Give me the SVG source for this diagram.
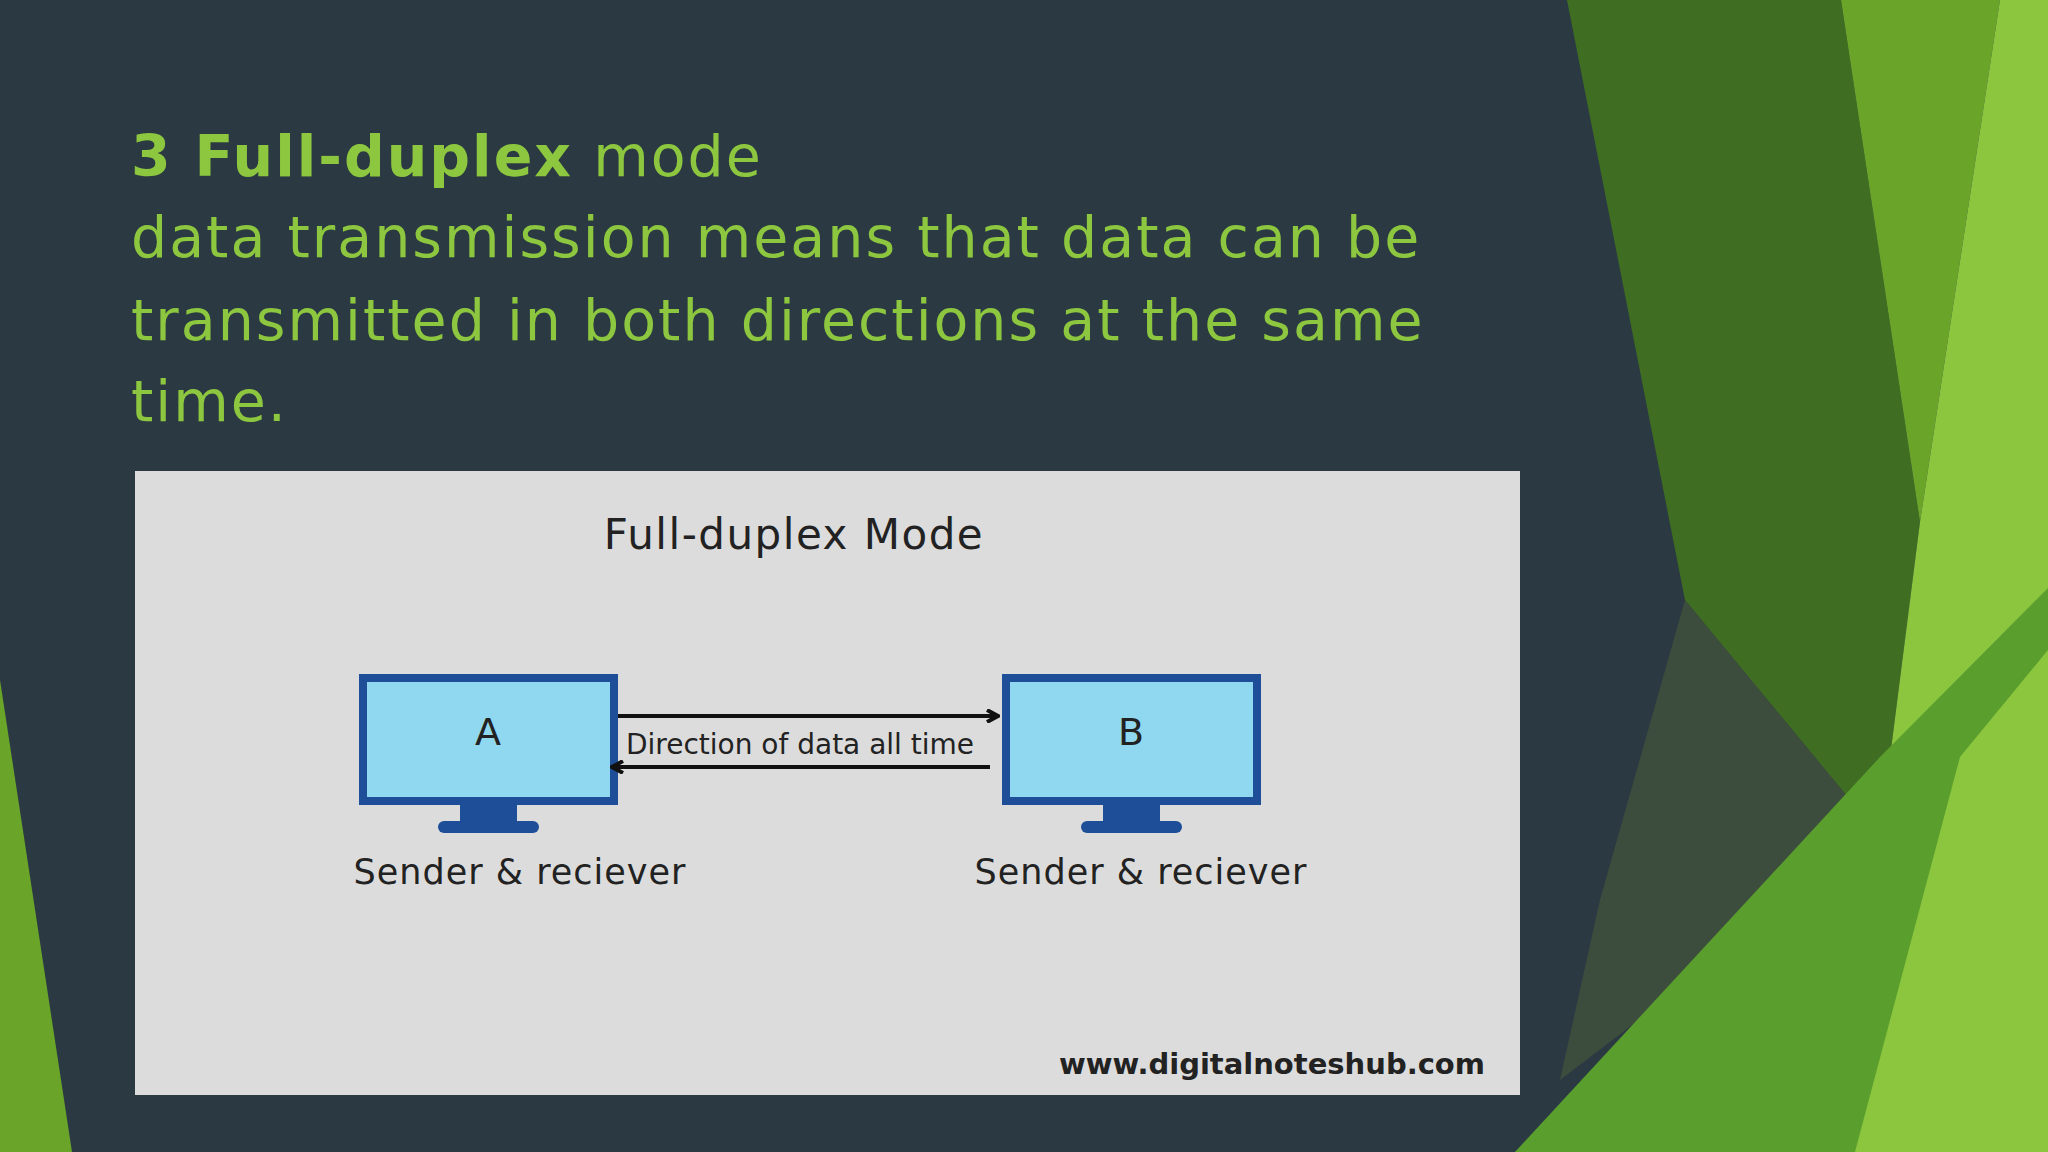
<svg xmlns="http://www.w3.org/2000/svg" width="2048" height="1152" viewBox="0 0 2048 1152">
<style>
.h{font-family:"DejaVu Sans",sans-serif;font-size:57px;letter-spacing:2px;fill:#8dc63f}
.s{font-family:"DejaVu Sans",sans-serif;fill:#222}
.mon{fill:#8fd8f0;stroke:#1f4e99;stroke-width:8}
.st{fill:#1f4e99}
.ar{stroke:#111;stroke-width:4;fill:none}
</style>
<defs><marker id="ah" markerWidth="14" markerHeight="14" refX="12" refY="7" orient="auto" markerUnits="userSpaceOnUse"><path d="M1,1 L12,7 L1,13" fill="none" stroke="#111" stroke-width="4"/></marker></defs>
<rect width="2048" height="1152" fill="#2b3a42"/>
<g id="bg">
<polygon points="1567,0 1841,0 1920,522 1880,836 1685,600" fill="#3f6e23"/>
<polygon points="1841,0 2000,0 1920,522" fill="#6aa52a"/>
<polygon points="1880,836 1920,522 2000,0 2048,0 2048,1152 1855,1152 1960,757" fill="#8cc63f"/>
<polygon points="1685,600 1880,836 1560,1080 1600,900" fill="#4a5a3a" opacity="0.6"/>
<polygon points="1515,1152 1880,757 2048,588 2048,1152" fill="#5a9e2e"/>
<polygon points="1855,1152 1960,757 2048,650 2048,1152" fill="#8cc63f"/>
<polygon points="0,680 72,1152 0,1152" fill="#6aa52a"/>
</g>
<g id="heading">
<text class="h" x="131" y="176"><tspan font-weight="bold">3 Full-duplex</tspan> mode</text>
<text class="h" x="131" y="257">data transmission means that data can be</text>
<text class="h" x="131" y="340">transmitted in both directions at the same</text>
<text class="h" x="131" y="421">time.</text>
</g>
<g id="panel">
<rect x="135" y="471" width="1385" height="624" fill="#dcdcdc"/>
<text class="s" x="794" y="549" font-size="42" letter-spacing="1.5" text-anchor="middle">Full-duplex Mode</text>
<text class="s" x="1485" y="1074" font-size="29" font-weight="bold" text-anchor="end">www.digitalnoteshub.com</text>
</g>
<g id="nodeA">
<rect class="mon" x="363" y="678" width="251" height="123"/>
<rect class="st" x="460" y="805" width="57" height="18"/>
<rect class="st" x="438" y="821" width="101" height="12" rx="6"/>
<text class="s" x="488" y="745" font-size="38" text-anchor="middle">A</text>
<text class="s" x="520" y="884" font-size="35" letter-spacing="1" text-anchor="middle">Sender &amp; reciever</text>
</g>
<g id="nodeB">
<rect class="mon" x="1006" y="678" width="251" height="123"/>
<rect class="st" x="1103" y="805" width="57" height="18"/>
<rect class="st" x="1081" y="821" width="101" height="12" rx="6"/>
<text class="s" x="1131" y="745" font-size="38" text-anchor="middle">B</text>
<text class="s" x="1141" y="884" font-size="35" letter-spacing="1" text-anchor="middle">Sender &amp; reciever</text>
</g>
<g id="connectors">
<line class="ar" x1="618" y1="716" x2="998" y2="716" marker-end="url(#ah)"/>
<line class="ar" x1="990" y1="767" x2="612" y2="767" marker-end="url(#ah)"/>
<text class="s" x="800" y="754" font-size="28" text-anchor="middle" fill="#333">Direction of data all time</text>
</g>
</svg>
